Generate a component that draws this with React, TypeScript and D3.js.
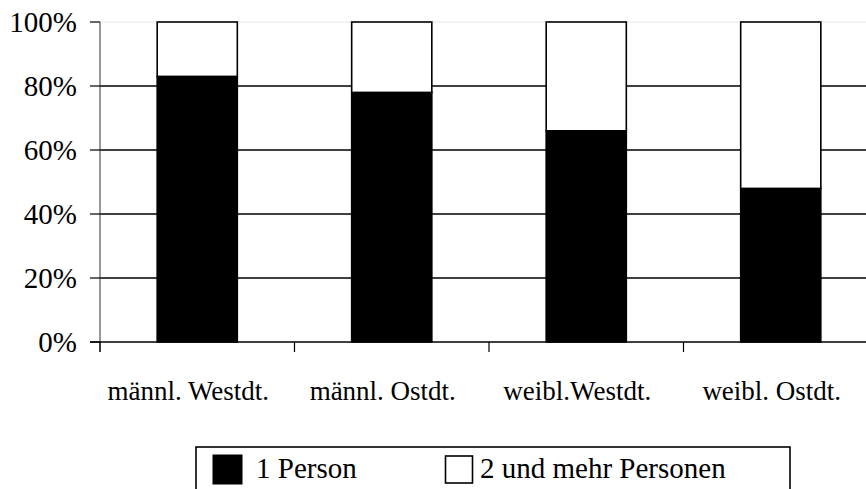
import React from "react";
import * as d3 from "d3";

const categories = ["männl. Westdt.", "männl. Ostdt.", "weibl.Westdt.", "weibl. Ostdt."];
const onePerson = [0.83, 0.78, 0.66, 0.48];
const twoPlus = [0.17, 0.22, 0.34, 0.52];
const seriesNames = ["1 Person", "2 und mehr Personen"];
const yTicks = [0, 0.2, 0.4, 0.6, 0.8, 1.0];

const W = 866;
const H = 489;
const font = "Liberation Serif, Times New Roman, serif";

export default function App() {
  const x = d3
    .scaleBand<string>()
    .domain(categories)
    .range([100, 878])
    .paddingInner(0.588)
    .paddingOuter(0.294);
  const y = d3.scaleLinear().domain([0, 1]).range([342, 22]);
  const fmt = d3.format(".0%");
  const step = x.step();
  const boundaries = d3.range(categories.length + 1).map((i) => 100 + i * step);

  return (
    <svg
      width={W}
      height={H}
      style={{ position: "absolute", left: 0, top: 0, background: "#fff" }}
    >
      {/* grid lines */}
      {yTicks.map((t) =>
        t > 0 ? (
          <line
            key={"g" + t}
            x1={100}
            x2={W}
            y1={y(t)}
            y2={y(t)}
            stroke={t === 1 ? "#e6e6e6" : "#000"}
            strokeWidth={t === 1 ? 1 : 1.6}
          />
        ) : null
      )}
      {/* bars */}
      {categories.map((c, i) => {
        const x0 = x(c)!;
        const bw = x.bandwidth();
        const v1 = onePerson[i];
        const v2 = twoPlus[i];
        return (
          <g key={c}>
            <rect
              x={x0}
              y={y(v1)}
              width={bw}
              height={y(0) - y(v1)}
              fill="#000"
              stroke="#000"
              strokeWidth={1.6}
            />
            <rect
              x={x0}
              y={y(v1 + v2)}
              width={bw}
              height={y(v1) - y(v1 + v2)}
              fill="#fff"
              stroke="#000"
              strokeWidth={1.6}
            />
          </g>
        );
      })}
      {/* y axis */}
      <line x1={100} x2={100} y1={y(1)} y2={352} stroke="#333" strokeWidth={1} />
      {yTicks.map((t) => (
        <g key={"t" + t}>
          <line x1={90} x2={100} y1={y(t)} y2={y(t)} stroke="#000" strokeWidth={1.2} />
          <text
            x={77}
            y={y(t)}
            dy="0.35em"
            textAnchor="end"
            fontFamily={font}
            fontSize={29}
            fill="#000"
          >
            {fmt(t)}
          </text>
        </g>
      ))}
      {/* x axis */}
      <line x1={90} x2={W} y1={y(0)} y2={y(0)} stroke="#000" strokeWidth={1.6} />
      {boundaries.map((b, i) => (
        <line key={"xb" + i} x1={b} x2={b} y1={y(0)} y2={352} stroke="#000" strokeWidth={1.2} />
      ))}
      {categories.map((c) => (
        <text
          key={"l" + c}
          x={x(c)! + x.bandwidth() / 2 - 9}
          y={400}
          textAnchor="middle"
          fontFamily={font}
          fontSize={27}
          fill="#000"
        >
          {c}
        </text>
      ))}
      {/* legend */}
      <rect x={196} y={447} width={594} height={60} fill="#fff" stroke="#000" strokeWidth={1.6} />
      <rect x={213} y={455} width={29} height={29} fill="#000" stroke="#000" strokeWidth={1} />
      <text x={256} y={478} fontFamily={font} fontSize={29} fill="#000">
        {seriesNames[0]}
      </text>
      <rect x={445.5} y={456} width={27} height={27} fill="#fff" stroke="#000" strokeWidth={1.6} />
      <text x={480} y={478} fontFamily={font} fontSize={29} fill="#000">
        {seriesNames[1]}
      </text>
    </svg>
  );
}
